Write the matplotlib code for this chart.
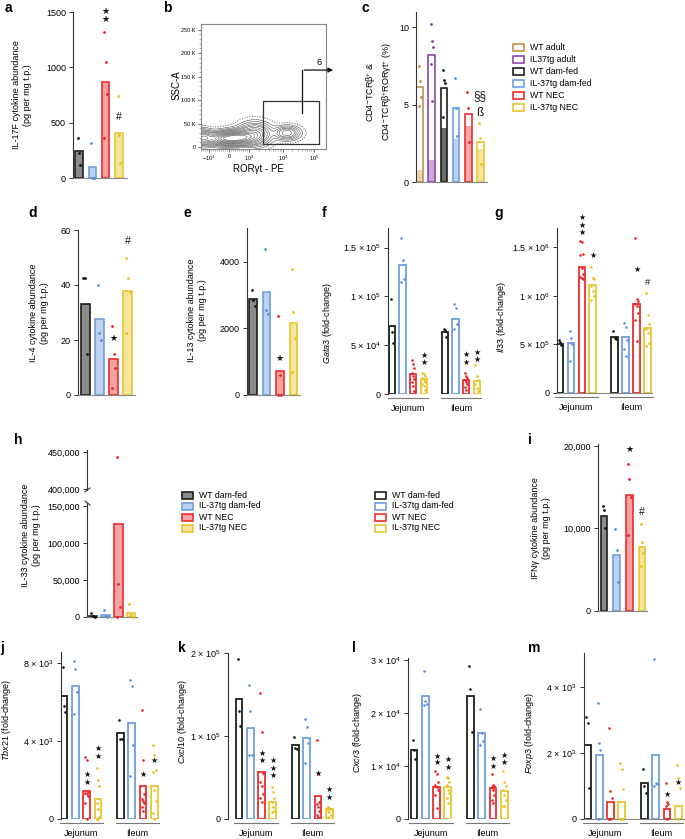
import numpy as np
import matplotlib
matplotlib.use("Agg")
import matplotlib.pyplot as plt
from matplotlib.patches import Rectangle
from matplotlib.lines import Line2D

plt.rcParams['font.family'] = ['Liberation Sans', 'DejaVu Sans']
plt.rcParams['mathtext.fontset'] = 'custom'
plt.rcParams['mathtext.rm'] = 'Liberation Sans'
plt.rcParams['mathtext.it'] = 'Liberation Sans:italic'

W, H = 685, 839

# ---------------- data ----------------
groups4 = ["WT dam-fed", "IL-37tg dam-fed", "WT NEC", "IL-37tg NEC"]
groups6 = ["WT adult", "IL37tg adult"] + groups4
sites = ["Jejunum", "Ileum"]

# a  IL-17F
a_bars = [240, 100, 870, 410]
a_pts = [[360, 230, 120], [320, 0, 0], [1320, 1050, 760, 360], [740, 390, 140]]
a_marks = [(2, [1505, 1430], "★"), (3, [550], "#")]

# b  flow (contour blobs: centre x, centre y (K), spread x, spread y, weight)
b_cx = [-1.3, -0.3, 0.5, 1.3, 2.9]
b_cy = [20, 18, 20, 28, 30]
b_sx = [0.3, 0.45, 0.5, 0.45, 0.35]
b_sy = [9, 8, 9, 13, 8]
b_w = [0.7, 0.8, 1.0, 0.6, 0.45]
b_gate = [1.7, 4.5, 6, 98]  # x0, x1, y0, y1
b_gate_pct = "6"

# c  CD4-TCRb+ RORgt+ %
c_bars = [6.1, 8.2, 6.05, 4.8, 4.4, 2.6]
c_inner = [0.8, 1.4, 3.5, 2.8, 3.6, 2.1]
c_pts = [[7.5, 6.5, 5.5, 4.9], [10.2, 9.1, 8.7, 7.6, 5.2], [7.2, 6.6, 6.4, 4.2],
         [6.7, 4.75, 3.0], [5.8, 4.8, 2.6], [3.8, 2.85, 1.15]]
c_marks = [(5, [5.55], "§§"), (5, [4.45], "ß")]

# d  IL-4
d_bars = [33, 27.5, 13, 38]
d_pts = [[42.5, 42.5, 15], [40, 22.5, 20], [25, 15, 10, 2.5], [50, 42.5, 37.5, 22.5]]
d_marks = [(2, [20.4], "★"), (3, [56], "#")]

# e  IL-13
e_bars = [2880, 3100, 720, 2150]
e_pts = [[3150, 2850, 2680], [4400, 2550, 2430], [2380, 600, 0, 0], [3780, 2500, 1700, 680]]
e_marks = [(2, [1110], "★")]

# h  IL-33
h_bars = [1500, 3000, 125000, 5000]
h_pts = [[6000, 800, 0], [9000, 1000, 0], [443000, 44000, 13000, 0], [17000, 3000, 500]]

# i  IFNg
i_bars = [11500, 6800, 14100, 7800]
i_pts = [[12700, 12300, 10000], [9900, 7400, 3500], [17800, 16000, 13800, 9200], [10500, 8400, 7000, 5500]]
i_marks = [(2, [19600], "★"), (3, [12000], "#")]

# gene panels: jejunum 4 groups then ileum 4 groups
f_bars = [70000, 132000, 20000, 15000, 63000, 77000, 14000, 13000]
f_pts = [[97000, 64000, 52000], [160000, 137000, 118000, 115000],
         [35000, 31000, 27000, 22000, 18000, 15000, 12000, 8000, 3000],
         [22000, 20000, 18000, 16000, 14000, 12000, 10000, 8000, 4000],
         [67000, 66000, 58000], [92000, 88000, 72000, 67000],
         [22000, 18000, 16000, 14000, 12000, 10000, 7000, 4000],
         [30000, 18000, 14000, 10000, 6000, 3000]]
f_marks = [(3, [39000, 31800], "★"), (6, [40000, 31800], "★"), (7, [43000, 35000], "★")]

g_bars = [510000, 520000, 1300000, 1110000, 580000, 580000, 920000, 670000]
g_pts = [[550000, 530000, 490000], [640000, 570000, 500000, 330000],
         [1570000, 1560000, 1430000, 1420000, 1290000, 1230000, 1200000, 1180000, 1170000],
         [1300000, 1180000, 1170000, 1100000, 1050000, 1000000, 960000],
         [640000, 570000, 560000], [720000, 680000, 550000, 450000, 380000],
         [1600000, 970000, 950000, 920000, 900000, 820000, 750000, 540000],
         [1030000, 800000, 710000, 660000, 620000, 520000, 480000]]
g_marks = [(2, [1.81e6, 1.73e6, 1.65e6], "★"), (3, [1.42e6], "★"), (6, [1.27e6], "★"), (7, [1.14e6], "#")]

j_bars = [6300, 6800, 1450, 1000, 4400, 4900, 1700, 1700]
j_pts = [[7800, 5800, 5500], [8100, 7700, 6500, 5400],
         [3200, 3000, 1400, 1350, 1300, 1200, 800, 0],
         [2600, 2000, 1700, 800, 500, 100, 0, 0],
         [5100, 4100, 4100], [7100, 6800, 3800, 2200],
         [5600, 3000, 1300, 1000, 900, 800, 600, 400],
         [3800, 3300, 2500, 2400, 1500, 900, 300, 0]]
j_marks = [(2, [2300, 1850], "★"), (3, [3600, 3200], "★"), (6, [2300], "★"), (7, [3000], "★")]

k_bars = [144000, 110000, 57000, 20000, 89000, 98000, 28000, 12000]
k_pts = [[193000, 130000, 112000], [162000, 130000, 77000, 77000],
         [152000, 105000, 55000, 45000, 40000, 30000, 25000, 20000],
         [38000, 33000, 25000, 20000, 15000, 10000, 8000],
         [99000, 86000, 84000], [121000, 111000, 91000, 67000],
         [95000, 54000, 20000, 18000, 15000, 10000, 5000, 3000],
         [15000, 13000, 12000, 10000, 8000, 5000, 3000]]
k_marks = [(2, [79500, 70000], "★"), (3, [70000, 61000, 52000], "★"), (6, [55000], "★"), (7, [36000, 26500], "★")]

l_bars = [13000, 23300, 6000, 6000, 23200, 16300, 5800, 5300]
l_pts = [[15000, 13000, 11300], [28000, 22200, 21800, 21600],
         [9000, 8500, 7000, 6500, 6000, 5500, 4500, 2000],
         [8000, 7700, 7000, 6500, 5500, 5000, 4000, 3000],
         [28800, 24500, 16500], [20700, 16300, 14800, 14000],
         [8500, 6500, 6200, 6000, 5500, 4500, 3500, 3000],
         [9000, 7000, 6200, 5500, 4500, 3500, 2500, 2500]]
l_marks = [(2, [11900, 10600], "★"), (3, [11300, 9800], "★"), (6, [11500, 10000], "★"), (7, [12000, 10600], "★")]

m_bars = [2250, 1950, 500, 500, 1100, 1950, 300, 400]
m_pts = [[3100, 2900, 950], [3500, 2300, 2100, 0],
         [2750, 850, 650, 0, 0], [1700, 1500, 900, 0, 0],
         [1500, 1000, 800], [4850, 1100, 1050, 1000],
         [1100, 500, 450, 400, 0], [1650, 1250, 950, 0]]
m_marks = [(6, [730], "★"), (7, [1120], "★")]

# ---------------- styles ----------------
edge4 = ['#1e1e1e', '#6d9fe0', '#ee2d2d', '#e8c630']
fill4 = ['#8b8b8b', '#bed1ef', '#f7a3a3', '#f5e69d']
dot4 = ['#111111', '#5a90dc', '#ec1f26', '#e6c21e']
edge6 = ['#c8914c', '#8e45a8'] + edge4
inner6 = ['#ead4b6', '#cda8d9', '#6a6a6a', '#bed1ef', '#f7a8a8', '#f4e49c']
dot6 = ['#c48a40', '#8a3aa5'] + dot4
gene_pos = [0, 1, 2, 3, 5, 6, 7, 8]

fig = plt.figure(figsize=(W / 100, H / 100), dpi=100)


def px_axes(x0, x1, ytop, ybot):
    return fig.add_axes([x0 / W, 1 - ybot / H, (x1 - x0) / W, (ybot - ytop) / H])


def style(ax, bottom=True):
    ax.spines['top'].set_visible(False)
    ax.spines['right'].set_visible(False)
    ax.spines['left'].set_color('#333333')
    ax.spines['left'].set_linewidth(0.8)
    ax.spines['bottom'].set_color('#888888')
    ax.spines['bottom'].set_linewidth(0.8)
    ax.spines['bottom'].set_visible(bottom)
    ax.tick_params(axis='y', direction='out', length=3, width=0.7, labelsize=6.5, pad=2, color='#333333')
    ax.tick_params(axis='x', bottom=False, labelbottom=False)
    ax.patch.set_alpha(0)


def draw_bars(ax, pos, bars, pts, edges, fills, dots, width, s=4, lw=1.2):
    ax.bar(pos, bars, width=width, color=fills, edgecolor=edges, linewidth=lw, zorder=2)
    for x, p, c in zip(pos, pts, dots):
        off = (np.arange(len(p)) % 3 - 1) * width * 0.2
        ax.scatter(x + off, p, s=s, color=c, lw=0, zorder=3, clip_on=False)


def draw_marks(ax, pos, marks, size=6.5):
    for i, ys, sym in marks:
        for y in ys:
            fam = ['DejaVu Sans'] if sym == "★" else ['Liberation Sans', 'DejaVu Sans']
            fs = size if sym == "★" else (size + 2 if sym in ("§§", "ß") else size + 1)
            ax.text(pos[i], y, sym, ha='center', va='center', fontsize=fs, family=fam,
                    color='#111111', clip_on=False, zorder=4)


def cyto(box, xlim, ylim, bars, pts, marks, yticks, ylabels, width):
    ax = px_axes(*box)
    pos = list(range(len(bars)))
    draw_bars(ax, pos, bars, pts, edge4, fill4, dot4, width)
    draw_marks(ax, pos, marks)
    ax.set_xlim(*xlim)
    ax.set_ylim(*ylim)
    ax.set_yticks(yticks)
    ax.set_yticklabels(ylabels)
    style(ax)
    return ax


def gene(box, xlim, ylim, bars, pts, marks, yticks, ylabels, bottom=False):
    ax = px_axes(*box)
    draw_bars(ax, gene_pos, bars, pts, edge4 * 2, ['white'] * 8, dot4 * 2, 0.6, s=3.5, lw=1.3)
    draw_marks(ax, gene_pos, marks, size=5.8)
    ax.set_xlim(*xlim)
    ax.set_ylim(*ylim)
    ax.set_yticks(yticks)
    ax.set_yticklabels(ylabels, fontsize=6.2)
    style(ax, bottom)
    hpx = box[3] - box[2]
    tr = ax.get_xaxis_transform()
    for k, name in enumerate(sites):
        p = gene_pos[4 * k:4 * k + 4]
        ax.plot([p[0] - 0.4, p[-1] + 0.45], [-4 / hpx] * 2, color='#777777', lw=0.8,
                transform=tr, clip_on=False)
        ax.text((p[0] + p[-1]) / 2, -14 / hpx, name, transform=tr, ha='center', va='center',
                fontsize=6.5)
    return ax


def ylab(x, y, text, fs=6.5):
    fig.text(x / W, 1 - y / H, text, rotation=90, ha='center', va='center',
             fontsize=fs, multialignment='center')


def letter(x, y, s):
    fig.text(x / W, 1 - y / H, s, fontsize=10, weight='bold', ha='left', va='center')


def legend(x, y0, dy, labels, edges, fills):
    for k, (lab, ec, fc) in enumerate(zip(labels, edges, fills)):
        y = y0 + k * dy
        fig.add_artist(Rectangle((x / W, 1 - (y + 3.5) / H), 11 / W, 7 / H,
                                 transform=fig.transFigure, facecolor=fc, edgecolor=ec, lw=1.2))
        fig.text((x + 17) / W, 1 - y / H, lab, va='center', ha='left', fontsize=6.3)


def fmt_comma(v):
    return f"{v:,.0f}"


# ---------------- a ----------------
cyto((73, 127, 12, 178), (-0.45, 3.6), (0, 1500), a_bars, a_pts, a_marks,
     [0, 500, 1000, 1500], ["0", "500", "1000", "1500"], 0.55)
ylab(22, 95, "IL-17F cytokine abundance\n(pg per mg t.p.)")
letter(5, 8, "a")

# ---------------- b ----------------
axb = px_axes(201, 326, 24, 149)
gx = np.linspace(-1.4, 4.85, 300)
gy = np.linspace(-4, 262, 300)
X, Y = np.meshgrid(gx, gy)
Z = np.zeros_like(X)
for cx, cy, sx, sy, w in zip(b_cx, b_cy, b_sx, b_sy, b_w):
    Z += w * np.exp(-0.5 * ((X - cx) / sx) ** 2 - 0.5 * ((Y - cy) / sy) ** 2)
lv = Z.max() * np.array([0.03, 0.06, 0.1, 0.15, 0.2, 0.28, 0.36, 0.45, 0.55, 0.65, 0.75, 0.85])
axb.contour(X, Y, Z, levels=lv, colors='#3a3a3a', linewidths=0.35)
axb.contour(X, Y, Z, levels=Z.max() * np.array([0.008]), colors='#555555', linewidths=0.7,
            linestyles=':')
axb.set_xlim(-1.4, 4.85)
axb.set_ylim(-4, 262)
axb.add_patch(Rectangle((b_gate[0], b_gate[2]), b_gate[1] - b_gate[0], b_gate[3] - b_gate[2],
                        fill=False, edgecolor='#333333', lw=0.9))
axb.plot([3.65, 3.65], [72, 164], color='#111111', lw=0.9, clip_on=False)
axb.annotate("", xy=(5.35, 164), xytext=(3.62, 164),
             arrowprops=dict(arrowstyle='-|>', color='#111111', lw=0.9, mutation_scale=7),
             annotation_clip=False)
axb.text(4.5, 180, b_gate_pct, fontsize=6.5, ha='center', va='center')
xmaj = [-1, 0, 1, 2.7, 4.25]
axb.set_xticks(xmaj)
axb.set_xticklabels([r"$-10^3$", "0", r"$10^3$", r"$10^4$", r"$10^5$"], fontsize=4)
xmin = [-1 + 0.1 * k for k in range(1, 10)] + [0.1 * k for k in range(1, 10)]
xmin += [1 + 1.7 * np.log10(k) for k in range(2, 10)] + [2.7 + 1.55 * np.log10(k) for k in range(2, 10)]
xmin += [-1.4 + 0.1 * k for k in range(0, 4)]
axb.set_xticks(xmin, minor=True)
axb.set_yticks([0, 50, 100, 150, 200, 250])
axb.set_yticklabels(["0", "50 K", "100 K", "150 K", "200 K", "250 K"], fontsize=4)
axb.set_yticks(np.arange(10, 260, 10), minor=True)
for sp in axb.spines.values():
    sp.set_color('#888888')
    sp.set_linewidth(0.8)
axb.tick_params(which='major', length=2.5, width=0.6, pad=1.2, color='#555555')
axb.tick_params(which='minor', length=1.3, width=0.4, color='#777777')
fig.text(258 / W, 1 - 169 / H, "RORγt - PE", fontsize=7, ha='center', va='center')
ylab(177, 85, "SSC-A", fs=7)
letter(163, 8, "b")

# ---------------- c ----------------
axc = px_axes(416, 487, 12, 182)
cpos = list(range(6))
axc.bar(cpos, c_inner, width=0.58, color=inner6, lw=0, zorder=1)
axc.bar(cpos, c_bars, width=0.58, facecolor='none', edgecolor=edge6, lw=1.2, zorder=2)
for x, p, c in zip(cpos, c_pts, dot6):
    off = (np.arange(len(p)) % 3 - 1) * 0.12
    axc.scatter(x + off, p, s=4, color=c, lw=0, zorder=3, clip_on=False)
draw_marks(axc, cpos, c_marks)
axc.set_xlim(-0.33, 5.58)
axc.set_ylim(0, 10.97)
axc.set_yticks([0, 5, 10])
style(axc)
ylab(379, 92, "CD4$^{-}$TCRβ$^{+}$ &\nCD4$^{-}$TCRβ$^{+}$RORγt$^{+}$ (%)")
letter(362, 8, "c")
legend(513, 47, 12, groups6, edge6, ['white'] * 6)

# ---------------- d, e ----------------
cyto((78, 135, 230, 395), (-0.49, 3.49), (0, 60), d_bars, d_pts, d_marks,
     [0, 20, 40, 60], ["0", "20", "40", "60"], 0.63)
ylab(39, 313, "IL-4 cytokine abundance\n(pg per mg t.p.)")
letter(28, 213, "d")

cyto((247, 300, 228, 395), (-0.45, 3.5), (0, 5020), e_bars, e_pts, e_marks,
     [0, 2000, 4000], ["0", "2000", "4000"], 0.55)
ylab(197, 310, "IL-13 cytokine abundance\n(pg per mg t.p.)")
letter(184, 213, "e")

# ---------------- f, g ----------------
gene((388, 482, 228, 394), (-0.37, 8.5), (0, 1.70e5), f_bars, f_pts, f_marks,
     [0, 5e4, 1e5, 1.5e5], ["0", "5 × 10$^4$", "1 × 10$^5$", "1.5 × 10$^5$"])
ylab(327, 323, "$\\it{Gata3}$ (fold-change)")
letter(322, 213, "f")

gene((557, 652, 228, 393), (-0.26, 8.4), (0, 1.70e6), g_bars, g_pts, g_marks,
     [0, 5e5, 1e6, 1.5e6], ["0", "5 × 10$^5$", "1 × 10$^6$", "1.5 × 10$^6$"], bottom=True)
ylab(502, 317, "$\\it{Il33}$ (fold-change)")
letter(494, 213, "g")

# ---------------- h (broken axis) ----------------
h_pos = list(range(4))
axh_up = px_axes(87, 137, 450, 490)
axh_lo = px_axes(87, 137, 503, 617)
h_split = 154000
axh_lo.bar(h_pos, h_bars, width=0.7, color=fill4, edgecolor=edge4, lw=1.2, zorder=2)
for x, p, c in zip(h_pos, h_pts, dot4):
    off = (np.arange(len(p)) % 3 - 1) * 0.14
    lo = [(o, v) for o, v in zip(off, p) if v <= h_split]
    hi = [(o, v) for o, v in zip(off, p) if v > h_split]
    if lo:
        axh_lo.scatter([x + o for o, v in lo], [v for o, v in lo], s=4, color=c, lw=0, zorder=3, clip_on=False)
    if hi:
        axh_up.scatter([x + o for o, v in hi], [v for o, v in hi], s=4, color=c, lw=0, zorder=3, clip_on=False)
for a_ in (axh_up, axh_lo):
    a_.set_xlim(-0.47, 3.47)
    style(a_)
axh_lo.set_ylim(0, h_split)
axh_up.set_ylim(398650, 452700)
axh_up.spines['bottom'].set_visible(False)
axh_lo.set_yticks([0, 50000, 100000, 150000])
axh_lo.set_yticklabels([fmt_comma(v) for v in [0, 50000, 100000, 150000]])
axh_up.set_yticks([400000, 450000])
axh_up.set_yticklabels([fmt_comma(v) for v in [400000, 450000]])
for yb, d in ((490, 1), (503, -1)):
    fig.add_artist(Line2D([85 / W, 90 / W], [1 - (yb + 2 * d) / H, 1 - (yb - 2 * d) / H],
                          transform=fig.transFigure, color='#333333', lw=0.8))
ylab(31, 535, "IL-33 cytokine abundance\n(pg per mg t.p.)")
letter(14, 440, "h")
legend(182, 495, 11, groups4, edge4, fill4)
legend(375, 495, 11, groups4, edge4, ['white'] * 4)

# ---------------- i ----------------
cyto((598, 647, 444, 611), (-0.47, 3.4), (0, 20240), i_bars, i_pts, i_marks,
     [0, 10000, 20000], ["0", "10,000", "20,000"], 0.53)
ylab(541, 528, "IFNγ cytokine abundance\n(pg per mg t.p.)")
letter(528, 440, "i")

# ---------------- j, k, l, m ----------------
gene((61, 160, 652, 819), (-0.27, 8.5), (0, 8560), j_bars, j_pts, j_marks,
     [0, 4000, 8000], ["0", "4 × 10$^3$", "8 × 10$^3$"])
ylab(7, 720, "$\\it{Tbx21}$ (fold-change)")
letter(0, 648, "j")

gene((228, 335, 653, 819), (-0.97, 8.5), (0, 2.0e5), k_bars, k_pts, k_marks,
     [0, 1e5, 2e5], ["0", "1 × 10$^5$", "2 × 10$^5$"])
ylab(183, 722, "$\\it{Cxcl10}$ (fold-change)")
letter(178, 648, "k")

gene((408, 510, 658, 819), (-0.53, 8.5), (0, 30400), l_bars, l_pts, l_marks,
     [0, 1e4, 2e4, 3e4], ["0", "1 × 10$^4$", "2 × 10$^4$", "3 × 10$^4$"])
ylab(357, 733, "$\\it{Cxcr3}$ (fold-change)")
letter(352, 648, "l")

gene((584, 685, 653, 819), (-0.34, 8.6), (0, 5030), m_bars, m_pts, m_marks,
     [0, 2000, 4000], ["0", "2 × 10$^3$", "4 × 10$^3$"], bottom=True)
ylab(529, 733, "$\\it{Foxp3}$ (fold-change)")
letter(528, 648, "m")

fig.savefig("out.png", dpi=100)
